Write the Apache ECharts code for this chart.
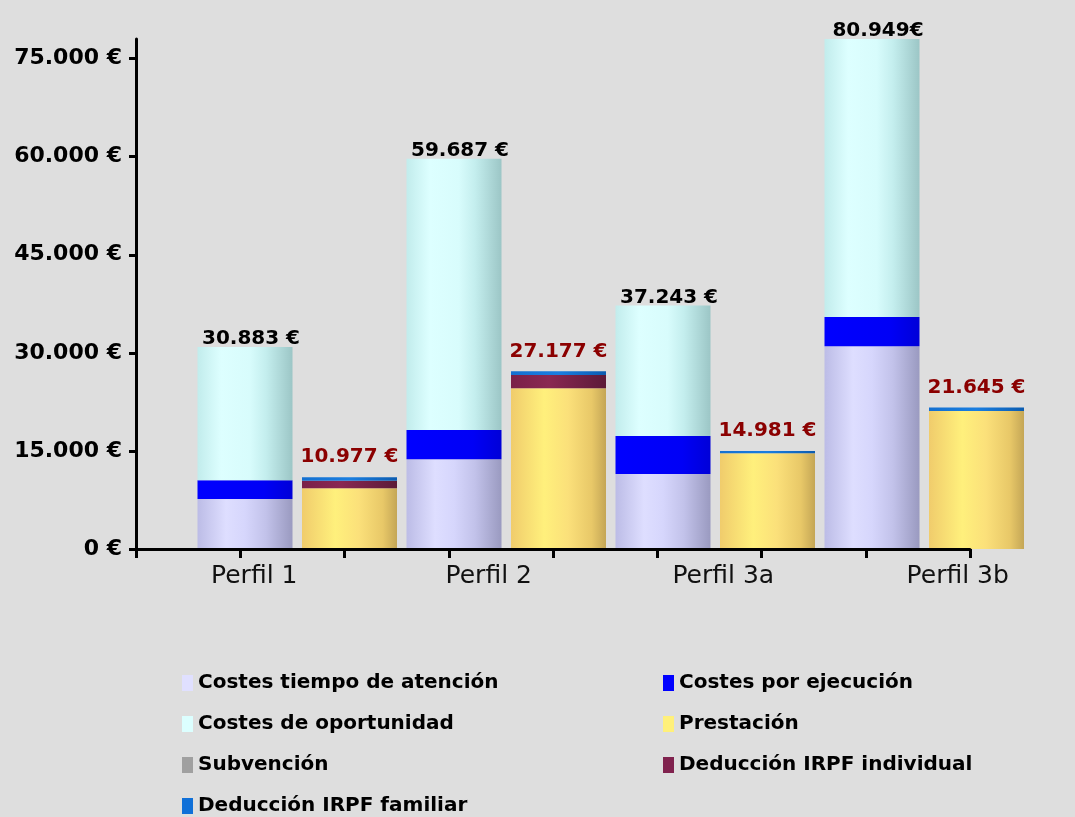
<!DOCTYPE html>
<html>
<head>
<meta charset="utf-8">
<script src="https://cdn.jsdelivr.net/npm/echarts@6/dist/echarts.min.js"></script>
<style>
html,body{margin:0;padding:0;background:#dedede;}
#chart{width:1075px;height:817px;}
</style>
</head>
<body>
<div id="chart"></div>
<script>
// ---- data ----
const profiles = ['Perfil 1', 'Perfil 2', 'Perfil 3a', 'Perfil 3b'];
// cost bar (left bar of each profile)
const costesTiempo = [7650, 13730, 11480, 31000];
const costesEjecucion = [2865, 4485, 5820, 4500];
const costesOportunidad = [20368, 41472, 19943, 45449];
const costTotalLabels = ['30.883 €', '59.687 €', '37.243 €', '80.949€'];
// benefit bar (right bar of each profile)
const prestacion = [9300, 24600, 14650, 21100];
const subvencion = [0, 0, 0, 0];
const deduccionIndividual = [1150, 2000, 0, 0];
const deduccionFamiliar = [527, 577, 331, 545];
const benefitTotalLabels = ['10.977 €', '27.177 €', '14.981 €', '21.645 €'];
// y axis
const yTicks = [0, 15000, 30000, 45000, 60000, 75000];
const yMax = 78000;

// ---- build 8 bar slots: left (costs) and right (benefits) per profile ----
const slots = [];
profiles.forEach(p => { slots.push(p + ' costes'); slots.push(p + ' beneficios'); });
function leftSlots(arr) { const o = []; arr.forEach(v => { o.push(v); o.push('-'); }); return o; }
function rightSlots(arr) { const o = []; arr.forEach(v => { o.push('-'); o.push(v); }); return o; }

function hgrad(stops) {
  return new echarts.graphic.LinearGradient(0, 0, 1, 0, stops.map(s => ({offset: s[0], color: s[1]})));
}
const colLavender = hgrad([[0,'#bcbce6'],[0.3,'#dedeff'],[0.5,'#d6d6fc'],[0.72,'#c2c2ea'],[1,'#9a9ac0']]);
const colBlue = hgrad([[0,'#0000ff'],[0.7,'#0000f6'],[1,'#0000d8']]);
const colCyan = hgrad([[0,'#c2ecec'],[0.25,'#ddffff'],[0.55,'#d8fcfc'],[0.72,'#c4eeee'],[1,'#9cc6c6']]);
const colYellow = hgrad([[0,'#f0cc6c'],[0.35,'#fff07c'],[0.6,'#fbe07a'],[0.85,'#e8c868'],[1,'#c4a656']]);
const colGray = '#a0a0a0';
const colMaroon = hgrad([[0,'#7a2048'],[0.4,'#8a2852'],[1,'#5c1a38']]);
const colFam = hgrad([[0,'#1470d0'],[0.5,'#1a7ee0'],[1,'#0c5cb0']]);

const font = 'DejaVu Sans';
const GRID_TOP = 39, GRID_BOTTOM = 268;

function barSeries(name, data, color, extra) {
  return Object.assign({
    name: name, type: 'bar', stack: 'total', xAxisIndex: 1, yAxisIndex: 1,
    data: data, barWidth: 95, itemStyle: {color: color}, emphasis: {disabled: true}
  }, extra || {});
}

const legendText = {fontFamily: font, fontWeight: 'bold', fontSize: 20, lineHeight: 20, color: '#000'};

const option = {
  backgroundColor: '#dedede',
  animation: false,
  grid: [
    {left: 136, width: 834, top: GRID_TOP, bottom: GRID_BOTTOM},
    {left: 192.75, width: 836, top: GRID_TOP, bottom: GRID_BOTTOM},
    {left: 137, width: 943, top: GRID_TOP, bottom: GRID_BOTTOM}
  ],
  xAxis: [
    {gridIndex: 0, type: 'category', data: slots,
     axisLine: {lineStyle: {color: '#000', width: 3}},
     axisTick: {show: true, interval: 0, length: 9, lineStyle: {color: '#000', width: 3}},
     axisLabel: {show: false}, z: 5},
    {gridIndex: 1, type: 'category', data: slots, show: false},
    {gridIndex: 2, type: 'category', data: profiles,
     axisLine: {show: false}, axisTick: {show: false},
     axisLabel: {margin: 15, color: '#111', fontFamily: font, fontSize: 25}}
  ],
  yAxis: [
    {gridIndex: 0, type: 'value', min: 0, max: yMax, interval: 15000,
     splitLine: {show: false},
     axisLine: {show: true, lineStyle: {color: '#000', width: 3}},
     axisTick: {show: true, length: 7, customValues: yTicks, lineStyle: {color: '#000', width: 3}},
     axisLabel: {customValues: yTicks, margin: 14, color: '#000', fontFamily: font, fontWeight: 'bold', fontSize: 22,
       formatter: v => (v === 0 ? '0' : v.toLocaleString('de-DE')) + ' €'}, z: 5},
    {gridIndex: 1, type: 'value', min: 0, max: yMax, show: false, splitLine: {show: false}},
    {gridIndex: 2, type: 'value', min: 0, max: yMax, show: false, splitLine: {show: false}}
  ],
  legend: [
    {orient: 'vertical', left: 182, top: 673, height: 150, padding: 0, itemWidth: 11, itemHeight: 16, itemGap: 21,
     icon: 'rect', selectedMode: false, textStyle: legendText,
     data: [
       {name: 'Costes tiempo de atención', itemStyle: {color: '#e0e0ff'}},
       {name: 'Costes de oportunidad', itemStyle: {color: '#dcffff'}},
       {name: 'Subvención', itemStyle: {color: '#a0a0a0'}},
       {name: 'Deducción IRPF familiar', itemStyle: {color: '#1070d8'}}
     ]},
    {orient: 'vertical', left: 663, top: 673, height: 150, padding: 0, itemWidth: 11, itemHeight: 16, itemGap: 21,
     icon: 'rect', selectedMode: false, textStyle: legendText,
     data: [
       {name: 'Costes por ejecución', itemStyle: {color: '#0000ff'}},
       {name: 'Prestación', itemStyle: {color: '#fff07a'}},
       {name: 'Deducción IRPF individual', itemStyle: {color: '#80224e'}}
     ]}
  ],
  series: [
    barSeries('Costes tiempo de atención', leftSlots(costesTiempo), colLavender),
    barSeries('Costes por ejecución', leftSlots(costesEjecucion), colBlue),
    barSeries('Costes de oportunidad', leftSlots(costesOportunidad), colCyan, {
      label: {show: true, position: 'top', distance: -2, offset: [6, 0],
        fontFamily: font, fontWeight: 'bold', fontSize: 20, color: '#000',
        formatter: p => costTotalLabels[Math.floor(p.dataIndex / 2)]}
    }),
    barSeries('Prestación', rightSlots(prestacion), colYellow),
    barSeries('Subvención', rightSlots(subvencion), colGray),
    barSeries('Deducción IRPF individual', rightSlots(deduccionIndividual), colMaroon),
    barSeries('Deducción IRPF familiar', rightSlots(deduccionFamiliar), colFam, {
      label: {show: true, position: 'top', distance: 10,
        fontFamily: font, fontWeight: 'bold', fontSize: 20, color: '#8b0000',
        formatter: p => benefitTotalLabels[Math.floor(p.dataIndex / 2)]}
    })
  ]
};

const chart = echarts.init(document.getElementById('chart'), null, {renderer: 'canvas'});
chart.setOption(option);
</script>
</body>
</html>
